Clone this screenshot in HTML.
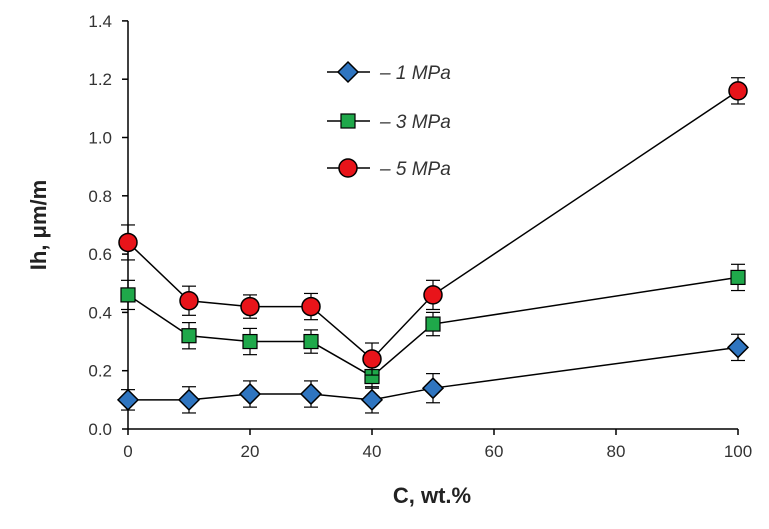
<!DOCTYPE html>
<html><head><meta charset="utf-8"><style>
body{margin:0;background:#fff;}
svg text{font-family:"Liberation Sans",Arial,sans-serif;}
</style></head><body>
<svg id="chart" width="769" height="524" xmlns="http://www.w3.org/2000/svg"></svg>
<script>
const categories=[0,10,20,30,40,50,100];
const s1=[0.10,0.10,0.12,0.12,0.10,0.14,0.28];
const s3=[0.46,0.32,0.30,0.30,0.18,0.36,0.52];
const s5=[0.64,0.44,0.42,0.42,0.24,0.46,1.16];
const e1=[0.035,0.045,0.045,0.045,0.045,0.05,0.045];
const e3=[0.05,0.045,0.045,0.04,0.04,0.04,0.045];
const e5=[0.06,0.05,0.04,0.045,0.055,0.05,0.045];
const xTicks=[0,20,40,60,80,100];
const yTicks=[0,0.2,0.4,0.6,0.8,1.0,1.2,1.4];
const NS="http://www.w3.org/2000/svg";
const svg=document.getElementById('chart');
const X=v=>128+v*6.1;
const Y=v=>429-v*291.5;
function mk(t,a,p){const e=document.createElementNS(NS,t);for(const k in a)e.setAttribute(k,a[k]);(p||svg).appendChild(e);return e;}
const ax=mk('g',{});


mk('line',{x1:X(0),y1:Y(0),x2:X(100),y2:Y(0),stroke:'#000','stroke-width':1.5},ax);
mk('line',{x1:X(0),y1:Y(0),x2:X(0),y2:Y(1.4),stroke:'#000','stroke-width':1.5},ax);
xTicks.forEach(v=>{mk('line',{x1:X(v),y1:Y(0),x2:X(v),y2:Y(0)+6,stroke:'#000','stroke-width':1.5},ax);
const t=mk('text',{x:X(v),y:457,'text-anchor':'middle','font-size':17,fill:'#333'},ax);t.textContent=v;

});
yTicks.forEach(v=>{mk('line',{x1:X(0)-6,y1:Y(v),x2:X(0),y2:Y(v),stroke:'#000','stroke-width':1.5},ax);
const t=mk('text',{x:112,y:Y(v)+6,'text-anchor':'end','font-size':17,fill:'#333'},ax);t.textContent=v.toFixed(1);

});
let t=mk('text',{x:432,y:503,'text-anchor':'middle','font-size':22,'font-weight':'bold',fill:'#222'});t.textContent='C, wt.%';


t=mk('text',{x:0,y:0,transform:'translate(46,225) rotate(-90)','text-anchor':'middle','font-size':22,'font-weight':'bold',fill:'#222'});t.textContent='Ih, μm/m';


function marker(type,x,y,g){
 if(type==='d')return mk('polygon',{points:`${x},${y-10} ${x+10},${y} ${x},${y+10} ${x-10},${y}`,fill:'#2f75c0',stroke:'#000','stroke-width':1.5},g);
 if(type==='s')return mk('rect',{x:x-7,y:y-7,width:14,height:14,fill:'#1fa84a',stroke:'#000','stroke-width':1.2},g);
 return mk('circle',{cx:x,cy:y,r:9,fill:'#e8141a',stroke:'#000','stroke-width':1.5},g);
}
function series(vals,errs,type,name){
 const g=mk('g',{});
 
 
 mk('polyline',{points:categories.map((c,i)=>X(c)+','+Y(vals[i])).join(' '),fill:'none',stroke:'#000','stroke-width':1.5},g);
 categories.forEach((c,i)=>{const x=X(c),y1=Y(vals[i]+errs[i]),y2=Y(vals[i]-errs[i]);
  mk('line',{x1:x,y1:y1,x2:x,y2:y2,stroke:'#000','stroke-width':1.2},g);
  mk('line',{x1:x-7,y1:y1,x2:x+7,y2:y1,stroke:'#000','stroke-width':1.2},g);
  mk('line',{x1:x-7,y1:y2,x2:x+7,y2:y2,stroke:'#000','stroke-width':1.2},g);});
 categories.forEach((c,i)=>{const m=marker(type,X(c),Y(vals[i]),g);
  
  });
}
series(s1,e1,'d','series-1mpa');
series(s3,e3,'s','series-3mpa');
series(s5,e5,'c','series-5mpa');
[['d','– 1 MPa',72],['s','– 3 MPa',121],['c','– 5 MPa',168]].forEach(([ty,lab,y])=>{
 const g=mk('g',{});
 
 
 mk('line',{x1:327,y1:y,x2:370,y2:y,stroke:'#000','stroke-width':1.5},g);
 marker(ty,348,y,g);
 const tx=mk('text',{x:380,y:y+7,'font-size':19,'font-style':'italic',fill:'#333'},g);tx.textContent=lab;
});
</script>
</body></html>
